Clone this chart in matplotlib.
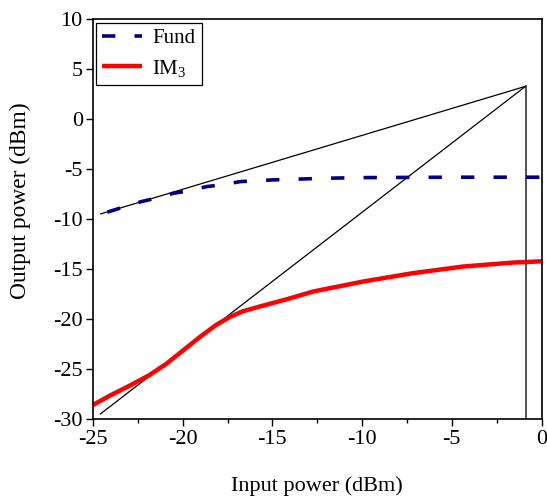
import matplotlib
matplotlib.use("Agg")
import matplotlib.pyplot as plt
import numpy as np

plt.rcParams['font.family'] = ['Liberation Serif', 'DejaVu Serif']
plt.rcParams['mathtext.fontset'] = 'custom'
plt.rcParams['mathtext.rm'] = 'Liberation Serif'
plt.rcParams['mathtext.it'] = 'Liberation Serif:italic'
plt.rcParams['mathtext.default'] = 'regular'

# Data
fund_x = [-24.57, -24.1, -23.4, -22.3, -21.5, -20.5, -19.7, -18.67, -17.86, -16.8, -15.0, -12.0, -10.0, -5.0, 0.0]
fund_y = [-9.47, -9.24, -8.84, -8.24, -7.9, -7.4, -7.17, -6.74, -6.57, -6.24, -6.07, -5.9, -5.84, -5.8, -5.8]

im3_x = [-25.0, -24.07, -22.96, -21.85, -20.93, -20.0, -19.07, -18.15, -17.41, -16.67,
         -15.56, -14.17, -12.73, -9.94, -7.16, -4.37, -1.58, 0.0]
im3_y = [-28.6, -27.67, -26.67, -25.6, -24.5, -23.17, -21.83, -20.6, -19.83, -19.23,
         -18.67, -18.0, -17.24, -16.24, -15.4, -14.74, -14.34, -14.22]

fund_fit_x = [-24.57, -0.89]
fund_fit_y = [-9.47, 3.3]
im3_fit_x = [-24.59, -0.89]
im3_fit_y = [-29.5, 3.3]
ip3_x = [-0.89, -0.89]
ip3_y = [3.3, -30.0]

x_ticks = [-25, -20, -15, -10, -5, 0]
y_ticks = [-30, -25, -20, -15, -10, -5, 0, 5, 10]

fig = plt.figure(figsize=(5.47, 4.97), dpi=100)
ax = fig.add_axes([0.170, 0.157, 0.820, 0.804])

ax.plot(fund_fit_x, fund_fit_y, color='black', lw=0.9)
ax.plot(im3_fit_x, im3_fit_y, color='black', lw=0.9)
ax.plot(ip3_x, ip3_y, color='#333333', lw=1.2)

ax.plot(fund_x, fund_y, color='#000080', lw=2.6, ls=(7.1, (3.7, 5.3)), label='Fund')
ax.plot(im3_x, im3_y, color='#ff0000', lw=3.2, label='IM$_3$',
        solid_capstyle='butt', solid_joinstyle='round')

ax.set_xlim(-25, 0)
ax.set_ylim(-30, 10)
ax.set_xticks(x_ticks)
ax.set_xticks(np.arange(-22.5, 0, 5), minor=True)
ax.set_yticks(y_ticks)
ax.set_xticklabels([str(t) for t in x_ticks])
ax.set_yticklabels([str(t) for t in y_ticks])
ax.tick_params(which='major', direction='out', length=4.8, width=1.0, labelsize=16, pad=2.5)
ax.tick_params(axis='x', which='major', pad=3.5)
ax.tick_params(which='minor', direction='out', length=3, width=1.0)
ax.tick_params(top=False, right=False)
for s in ax.spines.values():
    s.set_linewidth(1.2)

ax.set_xlabel('Input power (dBm)', fontsize=16, labelpad=19)
ax.set_ylabel('Output power (dBm)', fontsize=16.8)
ax.yaxis.set_label_coords(-0.138, 0.546)

leg = ax.legend(loc='upper left', fontsize=15, frameon=True, fancybox=False,
                edgecolor='black', framealpha=1, borderaxespad=0.15,
                handlelength=1.9, handletextpad=0.5, borderpad=0.3, labelspacing=0.45)
leg.get_frame().set_linewidth(0.9)
leg.legend_handles[0].set_linestyle((0, (3.7, 5.3)))

fig.savefig('out.png', dpi=100)
